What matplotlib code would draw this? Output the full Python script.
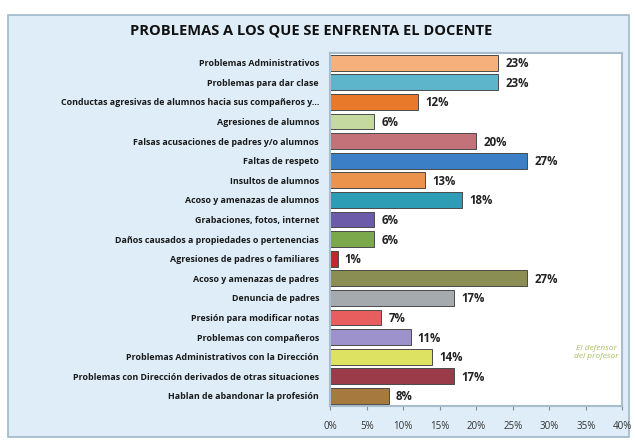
import numpy as np
import matplotlib.pyplot as plt
from matplotlib.patches import FancyBboxPatch

categorias = ["Problemas Administrativos", "Problemas para dar clase",
              "Conductas agresivas de alumnos hacia sus compañeros y...",
              "Agresiones de alumnos", "Falsas acusaciones de padres y/o alumnos",
              "Faltas de respeto", "Insultos de alumnos", "Acoso y amenazas de alumnos",
              "Grabaciones, fotos, internet", "Daños causados a propiedades o pertenencias",
              "Agresiones de padres o familiares", "Acoso y amenazas de padres",
              "Denuncia de padres", "Presión para modificar notas",
              "Problemas con compañeros", "Problemas Administrativos con la Dirección",
              "Problemas con Dirección derivados de otras situaciones",
              "Hablan de abandonar la profesión"]
valores = [23, 23, 12, 6, 20, 27, 13, 18, 6, 6, 1, 27, 17, 7, 11, 14, 17, 8]
colores = ["#f5b07c", "#5cb5ca", "#e8782a", "#c4d9a0", "#c47279", "#3b7fc6",
           "#eb924c", "#2d9db6", "#6b5ba8", "#7ba84b", "#c0282a", "#8b8e52",
           "#a4aaae", "#e85d5d", "#9e92cc", "#dde262", "#9b3b49", "#a6793f"]
ticks = [0, 5, 10, 15, 20, 25, 30, 35, 40]

plt.rcParams['font.family'] = ['Open Sans', 'DejaVu Sans']

fig = plt.figure(figsize=(6.35, 4.41), dpi=100)
fig.patch.set_facecolor("white")
bg = FancyBboxPatch((0.012, 0.01), 0.978, 0.955, boxstyle="square,pad=0",
                    transform=fig.transFigure, facecolor="#deedf7",
                    edgecolor="#9fb7c8", linewidth=1.2, zorder=-5)
fig.patches.append(bg)

ax = fig.add_axes([0.52, 0.08, 0.46, 0.80])
ax.set_facecolor("white")
y = np.arange(len(categorias))
ax.barh(y, valores, height=0.8, color=colores, edgecolor="#4a4a4a", linewidth=0.7)
for yi, v in zip(y, valores):
    ax.text(v + 1, yi + 0.05, f"{v}%", va="center", ha="left", fontsize=8.3,
            fontweight="bold", color="#222222")

ax.set_xlim(0, 40)
ax.set_ylim(len(categorias) - 0.5, -0.5)
ax.set_xticks(ticks)
ax.set_xticklabels([f"{t}%" for t in ticks], fontsize=7, color="#333333")
ax.set_yticks(y)
ax.set_yticklabels(categorias, fontsize=6.4, fontweight="bold", color="#1a1a1a")
ax.tick_params(axis="y", length=0, pad=8)
ax.tick_params(axis="x", length=3, color="#888888", pad=8)
for s in ax.spines.values():
    s.set_color("#a9bccb")
    s.set_linewidth(1.5)

fig.text(0.49, 0.93, "PROBLEMAS A LOS QUE SE ENFRENTA EL DOCENTE", ha="center",
         va="center", fontsize=10.5, fontweight="bold", color="#111111")

ax.text(36.5, 14.8, "El defensor\ndel profesor", ha="center", va="center",
        fontsize=6, style="italic", color="#8fae3a", alpha=0.8)

fig.savefig("out.png", dpi=100, facecolor=fig.get_facecolor())
